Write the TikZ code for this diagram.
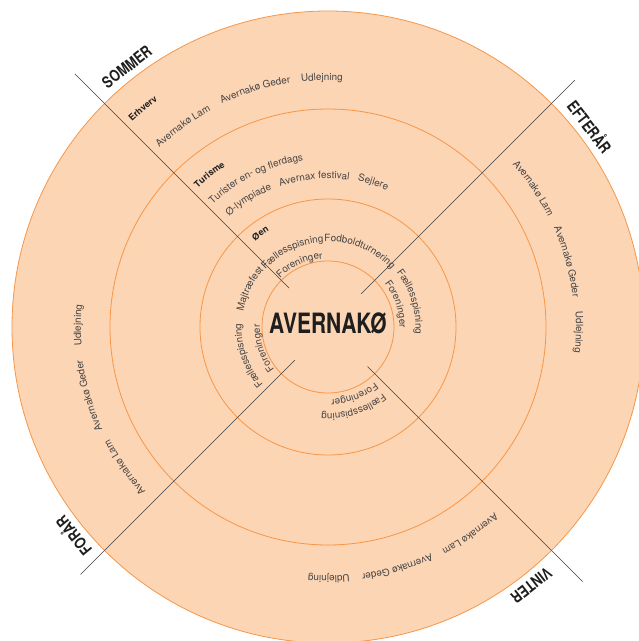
\documentclass[tikz,border=0pt]{standalone}
\usepackage{fontspec}
\setmainfont{TeX Gyre Heros}
\newfontfamily\condfont[FakeStretch=0.8]{TeX Gyre Heros}
\newfontfamily\titlefont[FakeStretch=0.75]{TeX Gyre Heros}
\usetikzlibrary{decorations.text}
\definecolor{ringfill}{HTML}{FCD5B5}
\definecolor{ringline}{HTML}{F79646}
\definecolor{itemc}{HTML}{454545}
\definecolor{inkc}{HTML}{1E1E1E}
\newcommand\itmfont{\fontsize{9.9}{11}\selectfont}
\newcommand\lblfont{\fontsize{9}{11}\selectfont\bfseries}
% radius (baseline), mid angle, text
\newcommand\itemarc[3]{%
  \path[decorate,decoration={text along path,text align=center,text color=itemc,text={|\itmfont|#3}}]
    ({#2+80}:#1pt) arc[start angle={#2+80},end angle={#2-80},radius=#1pt];}
\newcommand\labelarc[3]{%
  \path[decorate,decoration={text along path,text align=center,text color=inkc,text={|\lblfont|#3}}]
    ({#2+80}:#1pt) arc[start angle={#2+80},end angle={#2-80},radius=#1pt];}
\tikzset{
  ring/.style={draw=ringline,line width=0.8pt},
  divider/.style={draw=inkc!85,line width=0.7pt},
  season/.style={font=\condfont\bfseries\fontsize{16}{17}\selectfont,text=inkc,anchor=base,inner sep=0pt},
  title/.style={font=\titlefont\bfseries\fontsize{28}{30}\selectfont,text=inkc,inner sep=0pt}
}
\begin{document}
\begin{tikzpicture}
\useasboundingbox (-328pt,-314pt) rectangle (311pt,327pt);
% rings
\fill[ringfill] (0,0) circle[radius=316pt];
\draw[ring] (0,0) circle[radius=316pt];
\draw[ring] (0,0) circle[radius=218pt];
\draw[ring] (0,0) circle[radius=128pt];
\draw[ring] (0,0) circle[radius=66pt];
% dividers
\coordinate (sIn) at (135:55pt);  \coordinate (sOut) at (135:358pt);
\coordinate (eIn) at (45:47pt);   \coordinate (eOut) at (45:349pt);
\coordinate (vIn) at (-45:56pt);  \coordinate (vOut) at (-45:360pt);
\coordinate (fIn) at (225:47pt);  \coordinate (fOut) at (225:350pt);
\draw[divider] (sIn) -- (sOut);
\draw[divider] (eIn) -- (eOut);
\draw[divider] (vIn) -- (vOut);
\draw[divider] (fIn) -- (fOut);
% title
\node[title] (title) at (0pt,4pt) {AVERNAKØ};
% seasons
\node[season,rotate=127.7-90] (sommer) at (127.7:323pt) {SOMMER};
\node[season,rotate=37.4-90] (efteraar) at (37.4:323pt) {EFTERÅR};
\node[season,rotate=308.2-90] (vinter) at (308.2:323pt) {VINTER};
\node[season,rotate=219.4-90] (foraar) at (219.4:323pt) {FORÅR};
% top sector
\labelarc{283.5}{130.3}{Erhverv}
\itemarc{246}{125.8}{Avernakø Lam}
\itemarc{247}{107.1}{Avernakø Geder}
\itemarc{246.5}{91.4}{Udlejning}
\labelarc{190.5}{127.9}{Turisme}
\itemarc{168.5}{115.8}{Turister en- og flerdags}
\itemarc{148.5}{122}{Ø-lympiade}
\itemarc{148.5}{95.3}{Avernax festival}
\itemarc{149}{72.6}{Sejlere}
\labelarc{112.5}{125.9}{Øen}
\itemarc{85}{115.2}{Fællesspisning}
\itemarc{85.5}{67.3}{Fodboldturnering}
\itemarc{68.5}{114.4}{Foreninger}
% right sector
\itemarc{246}{34}{Avernakø Lam}
\itemarc{246.5}{15.3}{Avernakø Geder}
\itemarc{248}{-1.2}{Udlejning}
\itemarc{87.5}{16.9}{Fællesspisning}
\itemarc{71.5}{18.5}{Foreninger}
% bottom sector
\itemarc{249.5}{-55.5}{Avernakø Lam}
\itemarc{249}{-73.9}{Avernakø Geder}
\itemarc{248.5}{-89.8}{Udlejning}
\itemarc{86.5}{-72.5}{Fællesspisning}
\itemarc{72.5}{-68.6}{Foreninger}
% left sector
\itemarc{245.5}{214.6}{Avernakø Lam}
\itemarc{247.5}{196}{Avernakø Geder}
\itemarc{247}{179.6}{Udlejning}
\itemarc{86}{154}{Majtræfest}
\itemarc{86.5}{199.6}{Fællesspisning}
\itemarc{68}{198}{Foreninger}
\end{tikzpicture}
\end{document}
